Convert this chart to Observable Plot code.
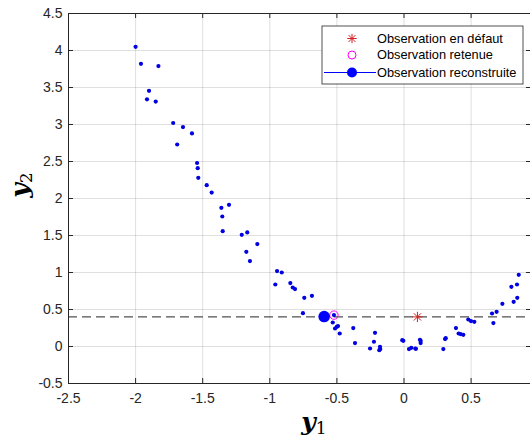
<!DOCTYPE html>
<html><head><meta charset="utf-8">
<script src="https://cdn.jsdelivr.net/npm/d3@7"></script>
<script src="https://cdn.jsdelivr.net/npm/@observablehq/plot@0.6"></script>
<style>body{margin:0;background:#fff} svg{display:block}</style>
</head><body><div id="chart"></div>
<script>
// Observations (y1, y2)
const obsY1 = [-2.00,-1.96,-1.83,-1.90,-1.915,-1.85,-1.72,-1.647,-1.58,-1.69,
  -1.542,-1.537,-1.533,-1.47,-1.433,-1.361,-1.304,-1.354,-1.351,-1.209,
  -1.168,-1.093,-1.175,-1.148,-0.946,-0.911,-0.959,-0.847,-0.829,-0.812,
  -0.743,-0.686,-0.753,-0.522,-0.531,-0.514,-0.501,-0.492,-0.479,-0.378,
  -0.365,-0.216,-0.224,-0.253,-0.179,-0.177,-0.184,-0.013,-0.005,0.037,
  0.054,0.084,0.089,0.119,0.124,0.124,0.293,0.311,0.306,0.387,
  0.407,0.422,0.442,0.479,0.499,0.524,0.656,0.666,0.690,0.733,
  0.817,0.844,0.800,0.842,0.855];
const obsY2 = [4.05,3.82,3.79,3.455,3.34,3.31,3.02,2.965,2.88,2.73,
  2.48,2.41,2.28,2.18,2.08,1.874,1.915,1.757,1.559,1.509,
  1.541,1.384,1.28,1.154,1.019,1.00,0.838,0.857,0.797,0.776,
  0.658,0.685,0.451,0.424,0.324,0.243,0.266,0.276,0.176,0.249,
  0.046,0.185,0.064,-0.027,-0.004,-0.035,-0.049,0.086,0.077,-0.035,
  -0.018,-0.027,-0.031,0.09,0.046,0.077,-0.035,0.113,0.10,0.249,
  0.176,0.168,0.158,0.365,0.343,0.334,0.446,0.316,0.469,0.577,
  0.604,0.658,0.807,0.838,0.969];
const faultY1 = [0.10], faultY2 = [0.40];          // Observation en défaut
const retainedY1 = [-0.522], retainedY2 = [0.424]; // Observation retenue
const reconY1 = [-0.595], reconY2 = [0.405];       // Observation reconstruite
const levelY2 = [0.40];                            // dashed level
const xTicks = [-2.5,-2,-1.5,-1,-0.5,0,0.5];
const yTicks = [-0.5,0,0.5,1,1.5,2,2.5,3,3.5,4,4.5];
const legendLabels = ["Observation en défaut","Observation retenue","Observation reconstruite"];

const obs = obsY1.map((v,i)=>({y1:v, y2:obsY2[i]}));
const zip = (a,b)=>a.map((v,i)=>({y1:v,y2:b[i]}));

const W=530, H=439, mL=68, mR=-1, mT=13, mB=56;
const innerW = W-mL-mR, innerH = H-mT-mB;
const ink = "#262626";
const font = "'Liberation Sans', Arial, sans-serif";

const plot = Plot.plot({
  width: W, height: H,
  marginLeft: mL, marginRight: mR, marginTop: mT, marginBottom: mB,
  style: {fontFamily: font, fontSize: "14px", color: ink, background: "#fff"},
  x: {domain: [-2.5, 0.95]},
  y: {domain: [-0.5, 4.5]},
  marks: [
    Plot.gridX(xTicks, {stroke: ink, strokeOpacity: 0.15}),
    Plot.gridY(yTicks, {stroke: ink, strokeOpacity: 0.15}),
    Plot.ruleY(levelY2, {stroke: ink, strokeWidth: 1, strokeDasharray: "9,5"}),
    Plot.dot(obs, {x: "y1", y: "y2", r: 2.1, fill: "#0000e0"}),
    Plot.dot(zip(retainedY1, retainedY2), {x: "y1", y: "y2", r: 4.2, stroke: "#ff00ff", strokeWidth: 1}),
    Plot.dot(zip(reconY1, reconY2), {x: "y1", y: "y2", r: 5.8, fill: "#0000ff"}),
    Plot.dot(zip(faultY1, faultY2), {x: "y1", y: "y2", r: 3.4, symbol: "plus", stroke: "#d42020", strokeWidth: 1}),
    Plot.dot(zip(faultY1, faultY2), {x: "y1", y: "y2", r: 3.4, symbol: "times", stroke: "#d42020", strokeWidth: 1}),
    // inward ticks (MATLAB style)
    Plot.ruleX(xTicks, {stroke: ink, insetTop: innerH-5}),
    Plot.ruleX(xTicks, {stroke: ink, insetBottom: innerH-5}),
    Plot.ruleY(yTicks, {stroke: ink, insetRight: innerW-5}),
    Plot.ruleY(yTicks, {stroke: ink, insetLeft: innerW-5}),
    Plot.frame({stroke: ink, strokeWidth: 1}),
    Plot.axisX(xTicks, {tickSize: 0, tickPadding: 10, tickFormat: d=>String(d), label: null, fontSize: 14}),
    Plot.axisY(yTicks, {tickSize: 0, tickPadding: 6, tickFormat: d=>String(d), label: null, fontSize: 14})
  ]
});
document.getElementById("chart").appendChild(plot);

const svg = d3.select(plot);
// axis labels
const lab = svg.append("text").attr("x", 314).attr("y", 430).attr("text-anchor","middle")
  .attr("fill","#000").style("font-family","'DejaVu Serif', serif");
lab.append("tspan").text("y").style("font-weight","bold").style("font-style","italic").style("font-size","25px");
lab.append("tspan").text("1").style("font-size","17px").attr("dy", 4);

const lab2 = svg.append("text").attr("transform","translate(28,185) rotate(-90)").attr("text-anchor","middle")
  .attr("fill","#000").style("font-family","'DejaVu Serif', serif");
lab2.append("tspan").text("y").style("font-weight","bold").style("font-style","italic").style("font-size","25px");
lab2.append("tspan").text("2").style("font-size","17px").attr("dy", 4);

// legend
const lg = svg.append("g").attr("text-anchor","start");
lg.append("rect").attr("x",322).attr("y",26).attr("width",201).attr("height",58)
  .attr("fill","#fff").attr("stroke",ink).attr("stroke-width",0.8);
const rows = [38.5, 55, 72.5];
const sx = 352;
// star
const s = 4.7, sd = 3.4;
lg.append("path").attr("d",`M${sx-s},${rows[0]}H${sx+s}M${sx},${rows[0]-s}V${rows[0]+s}M${sx-sd},${rows[0]-sd}L${sx+sd},${rows[0]+sd}M${sx-sd},${rows[0]+sd}L${sx+sd},${rows[0]-sd}`)
  .attr("stroke","#d42020").attr("fill","none");
lg.append("circle").attr("cx",sx).attr("cy",rows[1]).attr("r",4).attr("fill","none").attr("stroke","#ff00ff");
lg.append("line").attr("x1",324).attr("x2",376).attr("y1",rows[2]).attr("y2",rows[2]).attr("stroke","#0000ff").attr("stroke-width",1);
lg.append("circle").attr("cx",sx).attr("cy",rows[2]).attr("r",5).attr("fill","#0000ff");
legendLabels.forEach((t,i)=>{
  lg.append("text").attr("x",377).attr("y",rows[i]).attr("dy","0.35em").attr("text-anchor","start").text(t)
    .style("font-family",font).style("font-size","12.8px").attr("fill","#000");
});
</script>
</body></html>
